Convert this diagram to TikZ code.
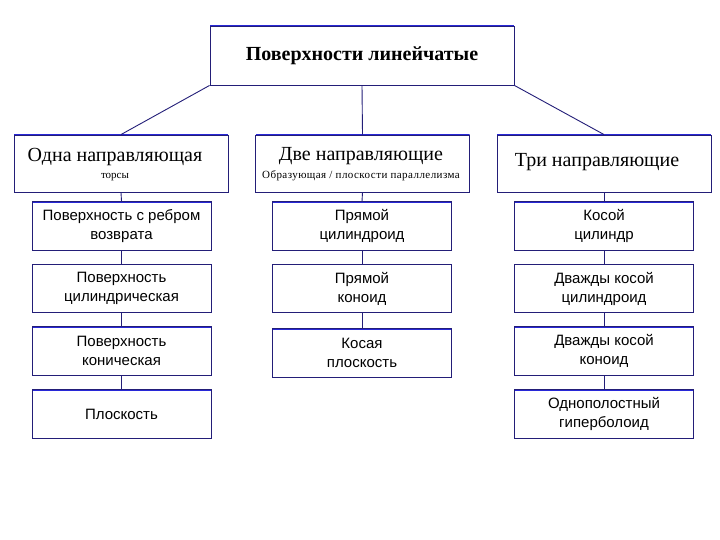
\documentclass[tikz,border=0pt]{standalone}
\usepackage{fontspec}
\setmainfont{Liberation Serif}
\setsansfont{Liberation Sans}
\definecolor{edge}{RGB}{35,30,120}
\definecolor{topedge}{RGB}{40,40,215}
\tikzset{
  box/.style={draw=edge, line width=0.9pt, fill=white, inner sep=0pt, align=center,
    path picture={\draw[topedge, line width=2.4pt] (path picture bounding box.north west) -- (path picture bounding box.north east);}},
  topbox/.style={box, minimum width=304pt, minimum height=59pt, font=\fontsize{20}{24}\selectfont\bfseries},
  headbox/.style={box, minimum width=214pt, minimum height=57pt},
  colbox/.style={box, minimum width=179pt, minimum height=48.5pt, font=\sffamily\fontsize{15}{19}\selectfont},
  head/.style={font=\fontsize{20}{24}\selectfont, inner sep=0pt},
  sub/.style={font=\fontsize{11}{13}\selectfont, inner sep=0pt},
  link/.style={draw=edge, line width=0.9pt}
}
\begin{document}
\begin{tikzpicture}[x=1pt,y=-1pt]
\useasboundingbox[fill=white] (0,0) rectangle (720,540);
% top
\node[topbox] (top) at (362,55.5) {Поверхности линейчатые};
% row 1
\node[headbox] (h1) at (121,163.5) {};
\node[headbox] (h2) at (362.5,163.5) {};
\node[headbox] (h3) at (604,163.5) {};
\node[head] (h1t) at (115,157) {Одна направляющая};
\node[sub] (h1s) at (115,177) {торсы};
\node[head] (h2t) at (361,156) {Две направляющие};
\node[sub, font=\fontsize{11}{13}\selectfont\addfontfeatures{LetterSpace=4}] (h2s) at (361,176) {Образующая / плоскости параллелизма};
\node[head] (h3t) at (597,162) {Три направляющие};
% columns
\node[colbox] (a1) at (121.5,226) {Поверхность с ребром\\возврата};
\node[colbox] (a2) at (121.5,288.5) {Поверхность\\цилиндрическая};
\node[colbox] (a3) at (121.5,351) {Поверхность\\коническая};
\node[colbox] (a4) at (121.5,414) {Плоскость};
\node[colbox] (b1) at (362,226) {Прямой\\цилиндроид};
\node[colbox] (b2) at (362,288.5) {Прямой\\коноид};
\node[colbox] (b3) at (362,353) {Косая\\плоскость};
\node[colbox] (c1) at (604,226) {Косой\\цилиндр};
\node[colbox] (c2) at (604,288.5) {Дважды косой\\цилиндроид};
\node[colbox] (c3) at (604,351) {Дважды косой\\коноид};
\node[colbox] (c4) at (604,414) {Однополостный\\гиперболоид};
% connectors
\draw[link] (top.south west) -- (h1.north);
\draw[link] (top.south) -- (h2.north);
\draw[link] (top.south east) -- (h3.north);
\draw[link] (h1.south) -- (a1.north);
\draw[link] (a1.south) -- (a2.north);
\draw[link] (a2.south) -- (a3.north);
\draw[link] (a3.south) -- (a4.north);
\draw[link] (h2.south) -- (b1.north);
\draw[link] (b1.south) -- (b2.north);
\draw[link] (b2.south) -- (b3.north);
\draw[link] (h3.south) -- (c1.north);
\draw[link] (c1.south) -- (c2.north);
\draw[link] (c2.south) -- (c3.north);
\draw[link] (c3.south) -- (c4.north);
\end{tikzpicture}
\end{document}
